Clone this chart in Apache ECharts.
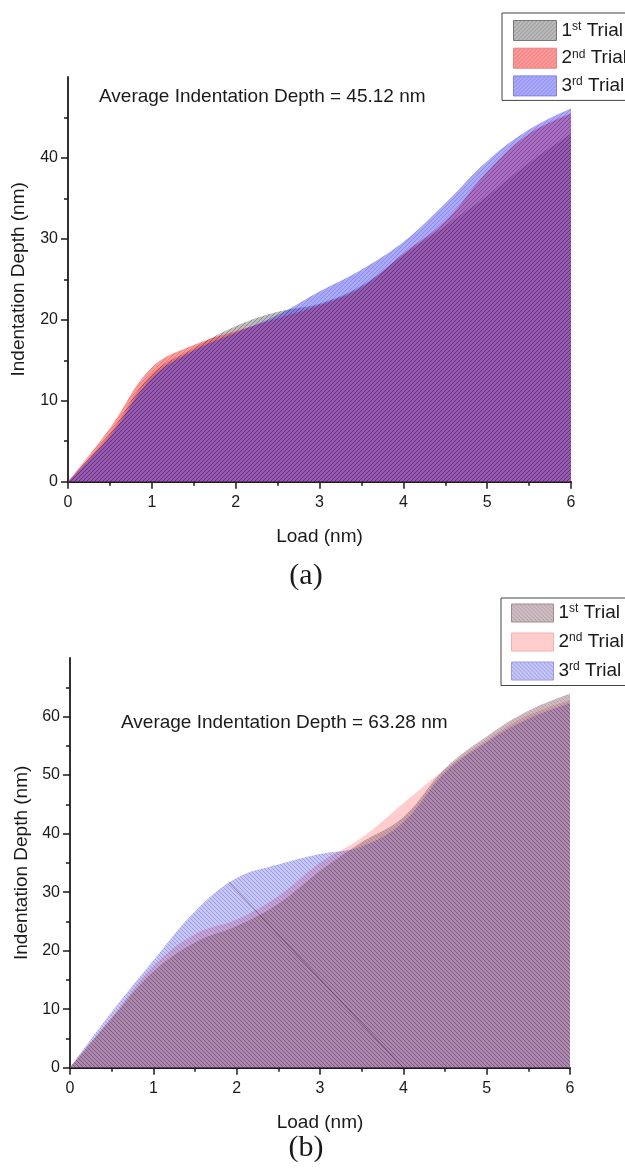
<!DOCTYPE html>
<html>
<head>
<meta charset="utf-8">
<script src="https://cdn.jsdelivr.net/npm/echarts@6/dist/echarts.min.js"></script>
<style>
html, body { margin: 0; padding: 0; background: #fff; }
#chart { width: 625px; height: 1168px; }
</style>
</head>
<body>
<div id="chart"></div>
<script>
// load values shared by every trial (nm)
var loads = [0, 0.5, 1, 1.5, 2, 2.5, 3, 3.5, 4, 4.5, 5, 5.5, 6];

// plot (a) indentation depth per trial
var trialA1 = [0, 6.0, 13.3, 16.5, 19.2, 21.0, 22.0, 24.2, 28.0, 31.6, 35.3, 39.4, 43.0];
var trialA2 = [0, 6.6, 14.1, 16.9, 18.6, 20.2, 21.8, 24.0, 28.2, 32.2, 38.3, 43.0, 45.5];
var trialA3 = [0, 5.6, 12.8, 16.2, 18.4, 20.6, 23.5, 26.2, 29.6, 34.4, 39.6, 43.5, 46.1];

// plot (b) indentation depth per trial
var trialB1 = [0, 8.4, 16.4, 21.4, 24.2, 28.0, 33.6, 38.5, 42.8, 51.1, 56.6, 61.0, 63.9];
var trialB2 = [0, 8.6, 17.3, 22.8, 25.3, 29.3, 35.0, 39.3, 45.2, 51.0, 56.0, 60.2, 62.8];
var trialB3 = [0, 9.5, 18.3, 26.7, 32.4, 34.7, 36.5, 37.8, 42.0, 50.4, 55.6, 59.6, 62.3];
// thin dark streak that crosses plot (b)
var streakB = [[1.9, 31.8], [4.0, 0]];

var xTicks = [0, 1, 2, 3, 4, 5, 6];
var yTicksA = [0, 10, 20, 30, 40];
var yTicksB = [0, 10, 20, 30, 40, 50, 60];
var trialNums = ['1', '2', '3'];
var trialSuffix = ['st', 'nd', 'rd'];
var avgA = '45.12';
var avgB = '63.28';

var FONT = '"Liberation Sans", Arial, sans-serif';
var INK = '#1a1a1a';

function zip(xs, ys) {
  return ys.map(function (y, i) { return [xs[i], y]; });
}

// small diagonal hatch tile, like the Origin fill patterns
function hatch(base, line, dir) {
  var c = document.createElement('canvas');
  c.width = 4; c.height = 4;
  var ctx = c.getContext('2d');
  ctx.fillStyle = base;
  ctx.fillRect(0, 0, 4, 4);
  for (var i = 0; i < 4; i++) {
    var x = dir === '/' ? 3 - i : i;
    ctx.clearRect(x, i, 1, 1);
    ctx.fillStyle = line;
    ctx.fillRect(x, i, 1, 1);
  }
  return { image: c, repeat: 'repeat' };
}

var patA = [
  hatch('rgba(110,110,110,0.45)', 'rgba(40,40,40,0.55)', '/'),
  hatch('rgba(255,50,50,0.5)', 'rgba(200,20,20,0.55)', '/'),
  hatch('rgba(50,50,255,0.42)', 'rgba(30,30,170,0.5)', '/')
];
var patB = [
  hatch('rgba(140,95,110,0.42)', 'rgba(80,50,60,0.45)', '\\'),
  hatch('rgba(255,90,90,0.3)', 'rgba(255,110,110,0.35)', '\\'),
  hatch('rgba(90,90,255,0.35)', 'rgba(40,40,130,0.45)', '\\')
];
var edgeA = ['#777', '#f08080', '#8080f0'];
var edgeB = ['#aa8888', '#f4b0b0', '#9a9ae8'];

function areaSeries(name, gi, ys, pat) {
  return {
    name: name, type: 'line', xAxisIndex: gi, yAxisIndex: gi,
    data: zip(loads, ys), smooth: 0.4,
    symbol: 'none', lineStyle: { opacity: 0 },
    areaStyle: { color: pat, opacity: 1 }, silent: true
  };
}

function xAxis(gi) {
  return {
    type: 'value', gridIndex: gi, min: 0, max: 6, interval: 1,
    name: 'Load (nm)', nameLocation: 'middle', nameGap: 46,
    nameTextStyle: { fontSize: 19, color: INK, fontFamily: FONT },
    axisLine: { show: true, onZero: false, lineStyle: { color: INK, width: 1.8 } },
    axisTick: { show: true, inside: false, length: 7, customValues: xTicks, lineStyle: { color: INK, width: 1.5 } },
    minorTick: { show: true, splitNumber: 2, length: 4, lineStyle: { color: INK, width: 1.5 } },
    axisLabel: { fontSize: 16, color: INK, margin: 13, fontFamily: FONT, customValues: xTicks },
    splitLine: { show: false }
  };
}

function yAxis(gi, max, ticks, gap) {
  return {
    type: 'value', gridIndex: gi, min: 0, max: max, interval: 10,
    name: 'Indentation Depth (nm)', nameLocation: 'middle', nameGap: gap,
    nameTextStyle: { fontSize: 19, color: INK, fontFamily: FONT },
    axisLine: { show: true, onZero: false, lineStyle: { color: INK, width: 1.8 } },
    axisTick: { show: true, inside: false, length: 7, customValues: ticks, lineStyle: { color: INK, width: 1.5 } },
    minorTick: { show: true, splitNumber: 2, length: 4, lineStyle: { color: INK, width: 1.5 } },
    axisLabel: { fontSize: 16, color: INK, margin: 10, fontFamily: FONT, customValues: ticks },
    splitLine: { show: false }
  };
}

function legendFmt(name) {
  var i = Number(name.slice(1)) - 1;
  return '{n|' + trialNums[i] + '}{s|' + trialSuffix[i] + '}{n| Trial}';
}

function legend(prefix, pats, edges, top, left, pad, gap, w, h) {
  return {
    orient: 'vertical', left: left, top: top, padding: pad, itemGap: gap,
    itemWidth: w, itemHeight: h, icon: 'rect', selectedMode: false,
    borderColor: '#444', borderWidth: 1, backgroundColor: '#fff',
    data: [1, 2, 3].map(function (k) {
      return { name: prefix + k, itemStyle: { color: pats[k - 1], borderColor: edges[k - 1], borderWidth: 1 } };
    }),
    formatter: legendFmt,
    textStyle: {
      color: INK, fontFamily: FONT, fontSize: 19,
      rich: {
        n: { fontSize: 19, lineHeight: 20, fontFamily: FONT, color: INK },
        s: { fontSize: 12, lineHeight: 12, verticalAlign: 'top', fontFamily: FONT, color: INK }
      }
    }
  };
}

var chart = echarts.init(document.getElementById('chart'), null, { renderer: 'canvas' });

var option = {
  animation: false,
  backgroundColor: '#fff',
  grid: [
    { left: 68, top: 77, width: 503, height: 404.7, outerBoundsMode: 'none' },
    { left: 70, top: 658, width: 500, height: 409.7, outerBoundsMode: 'none' }
  ],
  xAxis: [xAxis(0), xAxis(1)],
  yAxis: [yAxis(0, 50, yTicksA, 40), yAxis(1, 70, yTicksB, 38)],
  legend: [
    legend('a', patA, edgeA, 13, 502, [7, 30, 4, 11], 6.7, 43, 20),
    legend('b', patB, edgeB, 598, 501, [5, 30, 5, 10], 9.5, 42, 18)
  ],
  graphic: [
    { type: 'text', x: 99, y: 97, style: { text: 'Average Indentation Depth = ' + avgA + ' nm', fontSize: 19, fontFamily: FONT, fill: INK, verticalAlign: 'middle' } },
    { type: 'text', x: 121, y: 723, style: { text: 'Average Indentation Depth = ' + avgB + ' nm', fontSize: 19, fontFamily: FONT, fill: INK, verticalAlign: 'middle' } },
    { type: 'text', x: 306, y: 576, style: { text: '(a)', fontSize: 30, fontFamily: '"Liberation Serif", "Times New Roman", serif', fill: INK, align: 'center', verticalAlign: 'middle' } },
    { type: 'text', x: 306, y: 1148, style: { text: '(b)', fontSize: 30, fontFamily: '"Liberation Serif", "Times New Roman", serif', fill: INK, align: 'center', verticalAlign: 'middle' } }
  ],
  series: [
    areaSeries('a1', 0, trialA1, patA[0]),
    areaSeries('a2', 0, trialA2, patA[1]),
    areaSeries('a3', 0, trialA3, patA[2]),
    areaSeries('b2', 1, trialB2, patB[1]),
    areaSeries('b3', 1, trialB3, patB[2]),
    areaSeries('b1', 1, trialB1, patB[0]),
    {
      name: 'streak', type: 'line', xAxisIndex: 1, yAxisIndex: 1, data: streakB,
      symbol: 'none', silent: true, lineStyle: { color: 'rgba(60,35,60,0.45)', width: 1 }
    }
  ]
};

chart.setOption(option);
</script>
</body>
</html>
